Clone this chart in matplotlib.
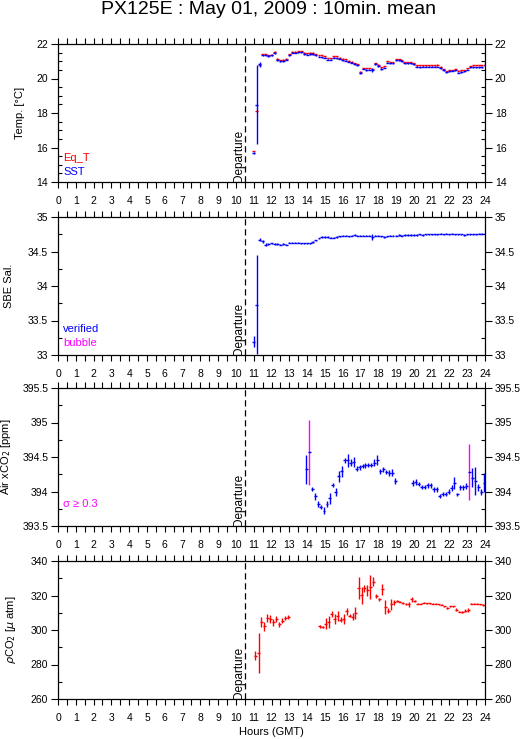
import matplotlib
matplotlib.use('Agg')
import matplotlib.pyplot as plt
from matplotlib.ticker import MultipleLocator, FormatStrFormatter

plt.rcParams['font.family'] = ['Liberation Sans', 'DejaVu Sans']

# ---- Temperature (10-min means) ----
t_temp = [11.00, 11.17, 11.33, 11.50, 11.67, 11.83, 12.00, 12.17, 12.33, 12.50,
          12.67, 12.83, 13.00, 13.17, 13.33, 13.50, 13.67, 13.83, 14.00, 14.17,
          14.33, 14.50, 14.67, 14.83, 15.00, 15.17, 15.33, 15.50, 15.67, 15.83,
          16.00, 16.17, 16.33, 16.50, 16.67, 16.83, 17.00, 17.17, 17.33, 17.50,
          17.67, 17.83, 18.00, 18.17, 18.33, 18.50, 18.67, 18.83, 19.00, 19.17,
          19.33, 19.50, 19.67, 19.83, 20.00, 20.17, 20.33, 20.50, 20.67, 20.83,
          21.00, 21.17, 21.33, 21.50, 21.67, 21.83, 22.00, 22.17, 22.33, 22.50,
          22.67, 22.83, 23.00, 23.17, 23.33, 23.50, 23.67, 23.83, 24.00]
eq_t = [15.80, 18.13, 20.80, 21.42, 21.42, 21.36, 21.38, 21.55, 21.15, 21.08,
        21.10, 21.14, 21.40, 21.55, 21.55, 21.60, 21.60, 21.50, 21.46, 21.50,
        21.50, 21.42, 21.36, 21.34, 21.28, 21.18, 21.18, 21.28, 21.28, 21.20,
        21.15, 21.11, 21.03, 20.98, 20.90, 20.84, 20.40, 20.60, 20.60, 20.60,
        20.53, 20.90, 20.80, 20.65, 20.72, 21.00, 20.95, 20.95, 21.13, 21.13,
        21.07, 20.95, 20.95, 20.95, 20.88, 20.76, 20.76, 20.76, 20.76, 20.76,
        20.76, 20.76, 20.80, 20.68, 20.53, 20.43, 20.48, 20.50, 20.53, 20.45,
        20.47, 20.50, 20.60, 20.72, 20.76, 20.76, 20.76, 20.76, 20.80]
sst = [15.66, 18.48, 20.82, 21.34, 21.34, 21.30, 21.34, 21.48, 21.07, 21.00,
       21.03, 21.10, 21.34, 21.50, 21.50, 21.52, 21.52, 21.42, 21.38, 21.42,
       21.42, 21.34, 21.27, 21.24, 21.19, 21.10, 21.10, 21.20, 21.18, 21.14,
       21.07, 21.03, 20.96, 20.92, 20.84, 20.78, 20.30, 20.57, 20.50, 20.52,
       20.50, 20.82, 20.72, 20.57, 20.63, 20.92, 20.88, 20.88, 21.07, 21.07,
       21.00, 20.88, 20.88, 20.88, 20.82, 20.69, 20.65, 20.67, 20.67, 20.69,
       20.69, 20.69, 20.69, 20.60, 20.50, 20.36, 20.42, 20.45, 20.47, 20.34,
       20.38, 20.42, 20.51, 20.65, 20.65, 20.65, 20.65, 20.65, 20.76]
sst_err = [0.06, 2.30, 0.15, 0.05, 0.04, 0.04, 0.05, 0.06, 0.04, 0.04,
           0.05, 0.04, 0.04, 0.03, 0.03, 0.03, 0.03, 0.04, 0.03, 0.03,
           0.03, 0.03, 0.03, 0.03, 0.03, 0.03, 0.03, 0.03, 0.03, 0.03,
           0.03, 0.03, 0.03, 0.03, 0.03, 0.03, 0.05, 0.04, 0.04, 0.04,
           0.10, 0.05, 0.04, 0.05, 0.05, 0.04, 0.03, 0.04, 0.03, 0.03,
           0.03, 0.03, 0.03, 0.03, 0.03, 0.03, 0.03, 0.03, 0.03, 0.03,
           0.03, 0.03, 0.03, 0.03, 0.04, 0.04, 0.04, 0.03, 0.03, 0.05,
           0.04, 0.03, 0.03, 0.03, 0.03, 0.03, 0.03, 0.03, 0.03]

# ---- Salinity ----
sal = [33.19, 33.73, 34.67, 34.65, 34.60, 34.61, 34.62, 34.61, 34.61, 34.60,
       34.61, 34.60, 34.63, 34.63, 34.63, 34.63, 34.62, 34.62, 34.62, 34.62,
       34.64, 34.66, 34.69, 34.71, 34.71, 34.71, 34.70, 34.70, 34.71, 34.72,
       34.73, 34.73, 34.72, 34.73, 34.74, 34.73, 34.73, 34.73, 34.73, 34.73,
       34.71, 34.73, 34.73, 34.72, 34.71, 34.72, 34.73, 34.73, 34.73, 34.74,
       34.73, 34.74, 34.74, 34.74, 34.74, 34.74, 34.75, 34.74, 34.75, 34.75,
       34.75, 34.75, 34.75, 34.76, 34.75, 34.76, 34.75, 34.76, 34.75, 34.75,
       34.75, 34.74, 34.75, 34.75, 34.75, 34.75, 34.76, 34.76, 34.76]
sal_err = [0.08, 0.72, 0.02, 0.02, 0.02, 0.02, 0.01, 0.01, 0.01, 0.01,
           0.01, 0.01, 0.01, 0.01, 0.01, 0.01, 0.01, 0.01, 0.01, 0.01,
           0.01, 0.01, 0.01, 0.01, 0.01, 0.01, 0.01, 0.01, 0.01, 0.01,
           0.01, 0.01, 0.01, 0.01, 0.01, 0.01, 0.01, 0.01, 0.01, 0.01,
           0.04, 0.01, 0.01, 0.01, 0.01, 0.01, 0.01, 0.01, 0.01, 0.01,
           0.01, 0.01, 0.01, 0.01, 0.01, 0.01, 0.01, 0.01, 0.01, 0.01,
           0.01, 0.01, 0.01, 0.01, 0.01, 0.01, 0.01, 0.01, 0.01, 0.01,
           0.01, 0.01, 0.01, 0.01, 0.01, 0.01, 0.01, 0.01, 0.01]

# ---- Air xCO2 ----
t_air = [13.95, 14.12, 14.28, 14.45, 14.62, 14.78, 14.95, 15.12, 15.28, 15.45,
         15.62, 15.78, 15.95, 16.12, 16.28, 16.45, 16.62, 16.78, 16.95, 17.12,
         17.28, 17.45, 17.62, 17.78, 17.95, 18.12, 18.28, 18.45, 18.62, 18.78,
         18.95,
         19.95, 20.12, 20.28, 20.45, 20.62, 20.78, 20.95, 21.12, 21.28, 21.45,
         21.62, 21.78, 21.95, 22.12, 22.28, 22.45, 22.62, 22.78, 22.95, 23.12,
         23.28, 23.45, 23.62, 23.78, 23.95]
air_xco2 = [394.32, 394.57, 394.04, 393.93, 393.82, 393.77, 393.72, 393.82, 393.90, 394.09,
            393.99, 394.22, 394.29, 394.45, 394.45, 394.42, 394.43, 394.33, 394.35, 394.37,
            394.38, 394.38, 394.38, 394.42, 394.46, 394.29, 394.32, 394.28, 394.27, 394.27,
            394.15,
            394.12, 394.14, 394.11, 394.07, 394.07, 394.09, 394.09, 394.03, 394.03, 393.93,
            393.97, 393.96, 394.00, 394.05, 394.12, 393.96, 394.06, 394.06, 394.08, 394.28,
            394.20, 394.15, 394.06, 393.99, 394.13]
air_err = [0.21, 0.47, 0.03, 0.05, 0.04, 0.03, 0.05, 0.04, 0.08, 0.03,
           0.06, 0.08, 0.08, 0.04, 0.10, 0.05, 0.07, 0.04, 0.04, 0.03,
           0.04, 0.03, 0.03, 0.05, 0.07, 0.04, 0.04, 0.03, 0.04, 0.05,
           0.04,
           0.04, 0.04, 0.03, 0.03, 0.03, 0.04, 0.04, 0.03, 0.04, 0.03,
           0.03, 0.03, 0.04, 0.04, 0.09, 0.02, 0.04, 0.04, 0.05, 0.41,
           0.14, 0.20, 0.05, 0.04, 0.14]

# ---- pCO2 ----
t_pco2 = [11.10, 11.27, 11.43, 11.60, 11.77, 11.93, 12.10, 12.27, 12.43, 12.60,
          12.77, 12.93,
          14.72, 14.89, 15.06, 15.22, 15.39, 15.56, 15.72, 15.89, 16.06, 16.22,
          16.39, 16.56, 16.72, 16.89, 17.06, 17.22, 17.39, 17.56, 17.72, 17.89,
          18.06, 18.22, 18.39, 18.56, 18.72, 18.89, 19.06, 19.22, 19.39, 19.56,
          19.72, 19.89, 20.06, 20.22, 20.39, 20.56, 20.72, 20.89, 21.06, 21.22,
          21.39, 21.56, 21.72, 21.89, 22.06, 22.22, 22.39, 22.56, 22.72, 22.89,
          23.06, 23.22, 23.39, 23.56, 23.72, 23.89]
pco2 = [285.0, 286.6, 304.7, 302.1, 307.0, 306.4, 304.5, 306.4, 303.3, 305.4,
        307.0, 307.6,
        302.1, 301.7, 303.7, 304.5, 309.3, 306.4, 308.0, 306.0, 306.4, 310.9,
        308.3, 307.6, 309.9, 324.3, 320.2, 324.3, 322.9, 325.0, 328.0, 319.6,
        317.7, 323.5, 313.2, 311.3, 314.8, 316.1, 316.7, 316.5, 315.7, 315.0,
        314.8, 317.7, 316.7, 315.3, 315.3, 315.7, 315.5, 315.4, 315.3, 315.3,
        315.0, 314.6, 313.8, 312.8, 313.8, 313.8, 311.8, 310.7, 310.3, 311.3,
        311.8, 315.3, 315.3, 315.3, 314.9, 314.4]
pco2_err = [2.6, 11.8, 3.0, 2.5, 2.5, 2.5, 2.0, 1.5, 1.5, 1.5,
            1.0, 1.0,
            1.0, 0.8, 3.0, 3.5, 2.0, 3.0, 3.0, 1.5, 3.0, 2.0,
            1.0, 2.0, 3.5, 6.5, 5.0, 2.0, 3.0, 7.0, 2.5, 1.0,
            1.0, 3.0, 4.0, 1.5, 3.0, 1.5, 0.5, 0.4, 0.4, 0.4,
            1.5, 1.5, 0.5, 0.5, 0.4, 0.3, 0.3, 0.3, 0.3, 0.3,
            0.3, 0.3, 0.4, 0.5, 0.4, 0.4, 1.0, 0.5, 0.5, 1.0,
            1.2, 0.5, 0.3, 0.3, 0.4, 0.5]

half = 1 / 12  # half of a 10-minute bin, in hours
departure = 10.5

fig = plt.figure(figsize=(5.29, 7.39), dpi=100)
W = 427 / 529
L = 58 / 529
H = 138 / 739
ax1 = fig.add_axes([L, 1 - 182 / 739, W, H])
ax2 = fig.add_axes([L, 1 - 355 / 739, W, H])
ax3 = fig.add_axes([L, 1 - 526 / 739, W, H])
ax4 = fig.add_axes([L, 1 - 699 / 739, W, H])

kw = dict(fmt='none', elinewidth=1.0, capsize=0)

# panel 1: temperatures
ax1.errorbar(t_temp, eq_t, xerr=half, yerr=0.02, ecolor='red', **kw)
ax1.errorbar(t_temp, sst, xerr=half, yerr=sst_err, ecolor='blue', **kw)
ax1.set_ylim(14, 22)
ax1.yaxis.set_major_locator(MultipleLocator(2))
ax1.yaxis.set_minor_locator(MultipleLocator(0.5))
ax1.set_ylabel('Temp. [°C]')
ax1.yaxis.set_label_coords(-0.077, 0.5)
ax1.text(0.012, 0.175, 'Eq_T', color='red', transform=ax1.transAxes, fontsize=8, va='center')
ax1.text(0.012, 0.075, 'SST', color='blue', transform=ax1.transAxes, fontsize=8, va='center')

# panel 2: salinity
ax2.errorbar(t_temp, sal, xerr=half, yerr=sal_err, ecolor='blue', **kw)
ax2.set_ylim(33, 35)
ax2.yaxis.set_major_locator(MultipleLocator(0.5))
ax2.yaxis.set_minor_locator(MultipleLocator(0.25))
ax2.set_ylabel('SBE Sal.')
ax2.yaxis.set_label_coords(-0.103, 0.5)
ax2.text(0.012, 0.19, 'verified', color='blue', transform=ax2.transAxes, fontsize=8, va='center')
ax2.text(0.012, 0.09, 'bubble', color='magenta', transform=ax2.transAxes, fontsize=8, va='center')

# panel 3: air xCO2, sigma >= 0.3 drawn in magenta
ok_t = [t for t, e in zip(t_air, air_err) if e < 0.3]
ok_v = [v for v, e in zip(air_xco2, air_err) if e < 0.3]
ok_e = [e for e in air_err if e < 0.3]
bad_t = [t for t, e in zip(t_air, air_err) if e >= 0.3]
bad_v = [v for v, e in zip(air_xco2, air_err) if e >= 0.3]
bad_e = [e for e in air_err if e >= 0.3]
ax3.errorbar(ok_t, ok_v, xerr=half, yerr=ok_e, ecolor='blue', **kw)
ax3.errorbar(bad_t, bad_v, yerr=bad_e, ecolor='magenta', **kw)
ax3.errorbar(bad_t, bad_v, xerr=half, ecolor='blue', **kw)
ax3.set_ylim(393.5, 395.5)
ax3.yaxis.set_major_locator(MultipleLocator(0.5))
ax3.yaxis.set_minor_locator(MultipleLocator(0.25))
ax3.set_ylabel('Air xCO$_2$ [ppm]')
ax3.yaxis.set_label_coords(-0.105, 0.5)
ax3.text(0.012, 0.16, 'σ ≥ 0.3', color='magenta', transform=ax3.transAxes, fontsize=8, va='center')

# panel 4: pCO2
ax4.errorbar(t_pco2, pco2, xerr=half, yerr=pco2_err, ecolor='red', **kw)
ax4.set_ylim(260, 340)
ax4.yaxis.set_major_locator(MultipleLocator(20))
ax4.yaxis.set_minor_locator(MultipleLocator(10))
ax4.set_ylabel(r'$\rho$CO$_2$ [$\mu$ atm]')
ax4.yaxis.set_label_coords(-0.094, 0.5)
ax4.set_xlabel('Hours (GMT)', fontsize=8, labelpad=3)

for ax in [ax1, ax2, ax3, ax4]:
    ax.set_xlim(0, 24)
    ax.xaxis.set_major_locator(MultipleLocator(1))
    ax.xaxis.set_minor_locator(MultipleLocator(0.5))
    ax.yaxis.set_major_formatter(FormatStrFormatter('%g'))
    ax.tick_params(axis='x', which='both', direction='out', length=4, width=0.8,
                   top=True, bottom=True, labelsize=7.5, pad=6)
    ax.tick_params(axis='y', which='major', direction='out', length=5, width=0.8,
                   left=True, right=True, labelleft=True, labelright=True, labelsize=7.5, pad=2)
    ax.tick_params(axis='y', which='minor', direction='in', length=3, width=0.8,
                   left=True, right=True)
    for s in ax.spines.values():
        s.set_linewidth(0.9)
    ax.yaxis.label.set_size(8)
    ax.axvline(departure, color='black', lw=0.9, ls=(0, (5, 3)))
    ax.text(departure, ax.get_ylim()[0], 'Departure', rotation=90, ha='right', va='bottom',
            fontsize=8.5)

fig.text(0.507, 0.9865, 'PX125E : May 01, 2009 : 10min. mean', ha='center', va='center',
         fontsize=14)

fig.savefig('out.png', dpi=100)
